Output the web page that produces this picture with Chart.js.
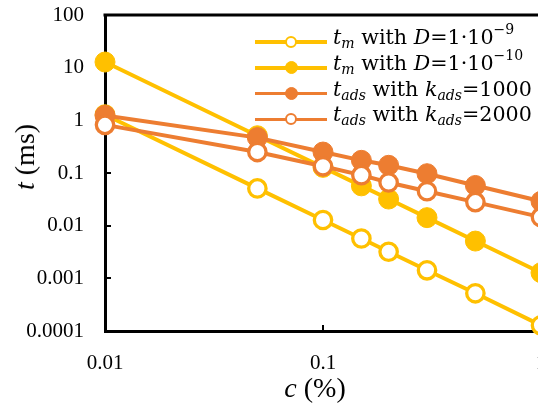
<!DOCTYPE html>
<html><head><meta charset="utf-8">
<script src="https://cdn.jsdelivr.net/npm/chart.js@4/dist/chart.umd.min.js"></script>
<style>
html,body{margin:0;padding:0;background:#fff;overflow:hidden;width:538px;height:405px}
#wrap{position:relative;width:560px;height:405px}
canvas{position:absolute;left:0;top:0}
.ttl{position:absolute;font-family:"Liberation Serif",serif;font-size:28px;color:#000;white-space:nowrap;line-height:1}
.lgrow{position:absolute;left:255px;width:300px;height:0}
.lgline{position:absolute;left:0;width:72px;height:3.4px;margin-top:-1.7px}
.lgmk{position:absolute;left:36px;border-radius:50%;box-sizing:border-box}
.lgtx{position:absolute;left:78px;font-family:"DejaVu Serif",serif;font-size:22px;line-height:1em;white-space:nowrap;color:#000}
.lgtx sub,.lgtx sup{line-height:0;font-size:68%}
.lgtx sub{font-style:italic;vertical-align:-0.3em}
.lgtx sup{vertical-align:0.7em}
</style></head>
<body>
<div id="wrap">
<canvas id="c" width="560" height="405"></canvas>
<div class="ttl" style="left:25px;top:157px;transform:translate(-50%,-50%) rotate(-90deg)"><i>t</i> (ms)</div>
<div class="ttl" style="left:315px;top:388px;transform:translate(-50%,-50%)"><i>c</i> (%)</div>
<div id="legend"></div>
</div>
<script>
// ---- data ----
const concentrations = [0.01, 0.05, 0.1, 0.15, 0.2, 0.3, 0.5, 1];
const tmD1e9  = [1.28, 0.051, 0.0128, 0.0057, 0.0032, 0.00142, 0.00052, 0.000128];
const tmD1e10 = [12.8, 0.51, 0.128, 0.057, 0.032, 0.0142, 0.0051, 0.00128];
const tadsK1000 = [1.24, 0.47, 0.25, 0.174, 0.14, 0.097, 0.058, 0.029];
const tadsK2000 = [0.82, 0.25, 0.134, 0.091, 0.066, 0.045, 0.028, 0.0145];
const xTickVals = [0.01, 0.1, 1];
const xTickLabels = ['0.01', '0.1', '1'];
const yTickVals = [0.0001, 0.001, 0.01, 0.1, 1, 10, 100];
const yTickLabels = ['0.0001', '0.001', '0.01', '0.1', '1', '10', '100'];
const seriesNames = [
  '<i>t</i><sub>m</sub> with <i>D</i>=1·10<sup>−9</sup>',
  '<i>t</i><sub>m</sub> with <i>D</i>=1·10<sup>−10</sup>',
  '<i>t</i><sub>ads</sub> with <i>k</i><sub>ads</sub>=1000',
  '<i>t</i><sub>ads</sub> with <i>k</i><sub>ads</sub>=2000'
];

const YEL = '#FFC000', ORA = '#ED7D31';
const toPts = arr => concentrations.map((x, i) => ({x: x, y: arr[i]}));
function ds(arr, color, filled, order) {
  return {
    data: toPts(arr), borderColor: color, borderWidth: 4,
    pointRadius: filled ? 10 : 8.7,
    pointBorderWidth: filled ? 1 : 3.3,
    pointBorderColor: color,
    pointBackgroundColor: filled ? color : '#fff',
    pointHoverRadius: filled ? 10 : 8.7,
    fill: false, tension: 0, clip: false, order: order
  };
}
const datasets = [
  ds(tmD1e9, YEL, false, 4),
  ds(tmD1e10, YEL, true, 3),
  ds(tadsK1000, ORA, true, 2),
  ds(tadsK2000, ORA, false, 1)
];

const innerTicks = {
  id: 'innerTicks',
  beforeDatasetsDraw(chart) {
    const {ctx, chartArea: a, scales: {x, y}} = chart;
    ctx.save();
    ctx.strokeStyle = '#000';
    ctx.lineWidth = 3;
    ctx.beginPath();
    ctx.moveTo(a.left - 1.5, a.top);
    ctx.lineTo(chart.width, a.top);
    ctx.stroke();
    ctx.lineWidth = 2;
    ctx.beginPath();
    yTickVals.forEach(v => {
      const py = Math.round(y.getPixelForValue(v));
      if (py > a.top + 2 && py < a.bottom - 2) { ctx.moveTo(a.left, py); ctx.lineTo(a.left + 6, py); }
    });
    xTickVals.forEach(v => {
      const px = Math.round(x.getPixelForValue(v));
      if (px > a.left + 2 && px < a.right - 2) { ctx.moveTo(px, a.bottom); ctx.lineTo(px, a.bottom - 6); }
    });
    ctx.stroke();
    ctx.restore();
  }
};

const tickFont = {family: '"Liberation Serif", serif', size: 21};
new Chart(document.getElementById('c'), {
  type: 'line',
  data: {datasets: datasets},
  options: {
    responsive: false, animation: false, devicePixelRatio: 1,
    layout: {padding: {left: 0, top: 15, right: 19, bottom: 0}},
    plugins: {legend: {display: false}, tooltip: {enabled: false}},
    scales: {
      x: {
        type: 'logarithmic', min: 0.01, max: 1,
        grid: {display: false},
        border: {display: true, color: '#000', width: 3},
        afterBuildTicks: s => { s.ticks = xTickVals.map(v => ({value: v})); },
        afterFit: s => { s.height = 74; s.paddingLeft = 0; s.paddingRight = 0; },
        ticks: {
          autoSkip: false, maxRotation: 0, color: '#000', font: tickFont, padding: 12,
          callback: v => { const i = xTickVals.indexOf(v); return i >= 0 ? xTickLabels[i] : ''; }
        }
      },
      y: {
        type: 'logarithmic', min: 0.0001, max: 100,
        grid: {display: false},
        border: {display: true, color: '#000', width: 3},
        afterBuildTicks: s => { s.ticks = yTickVals.map(v => ({value: v})); },
        afterFit: s => { s.width = 105; s.paddingTop = 0; s.paddingBottom = 0; },
        ticks: {
          autoSkip: false, color: '#000', font: tickFont, padding: 13,
          callback: v => { const i = yTickVals.indexOf(v); return i >= 0 ? yTickLabels[i] : ''; }
        }
      }
    }
  },
  plugins: [innerTicks]
});

// ---- HTML legend (rich text) ----
const lg = document.getElementById('legend');
const lgColors = [YEL, YEL, ORA, ORA];
const lgFilled = [false, true, true, false];
const lgY = [42, 67.8, 93.6, 119.4];
const texts = [];
seriesNames.forEach((name, i) => {
  const row = document.createElement('div');
  row.className = 'lgrow';
  row.style.top = lgY[i] + 'px';
  const ln = document.createElement('div');
  ln.className = 'lgline'; ln.style.background = lgColors[i];
  const mk = document.createElement('div');
  mk.className = 'lgmk';
  const d = lgFilled[i] ? 13 : 12;
  mk.style.width = d + 'px'; mk.style.height = d + 'px';
  mk.style.marginLeft = (-d / 2) + 'px'; mk.style.marginTop = (-d / 2) + 'px';
  mk.style.background = lgFilled[i] ? lgColors[i] : '#fff';
  mk.style.border = (lgFilled[i] ? 1 : 2.5) + 'px solid ' + lgColors[i];
  const tx = document.createElement('div');
  tx.className = 'lgtx'; tx.innerHTML = name;
  row.appendChild(ln); row.appendChild(mk); row.appendChild(tx);
  lg.appendChild(row);
  texts.push(tx);
});
// fit legend font so the widest entry spans the same width as in the original
const w0 = texts[2].getBoundingClientRect().width;
const fs = Math.max(16, Math.min(28, 22 * 199 / w0));
texts.forEach(tx => {
  tx.style.fontSize = fs + 'px';
  tx.style.top = (2.5 - 0.846 * fs) + 'px';
});
</script>
</body></html>
